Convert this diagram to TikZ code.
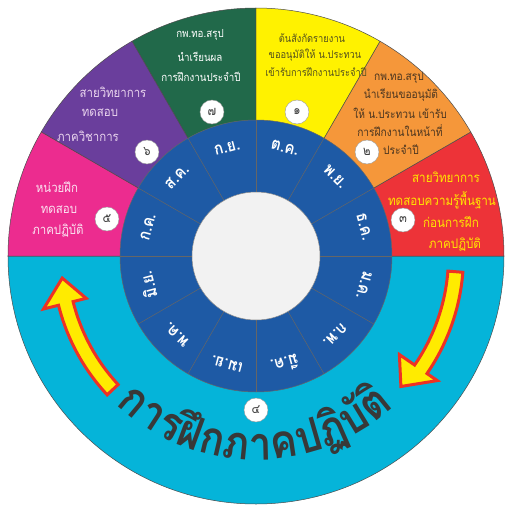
\documentclass[tikz,border=0pt]{standalone}
\usepackage{fontspec}
\newfontfamily\thai[Script=Thai, FakeStretch=0.88]{Loma}
\definecolor{cpink}{HTML}{EC2C8F}
\definecolor{cpurple}{HTML}{6A3E9C}
\definecolor{cgreen}{HTML}{21694A}
\definecolor{cyellow}{HTML}{FFF200}
\definecolor{corange}{HTML}{F5973A}
\definecolor{cred}{HTML}{ED3338}
\definecolor{ccyan}{HTML}{05B4D9}
\definecolor{cblue}{HTML}{1E5AA5}
\definecolor{cgray}{HTML}{F2F2F2}
\definecolor{ytext}{HTML}{55521E}
\definecolor{otext}{HTML}{4A3520}
\definecolor{rtext}{HTML}{FFE600}
\definecolor{ptext}{HTML}{EAD5EE}
\definecolor{pktext}{HTML}{FBE3F1}
\definecolor{bigtext}{HTML}{383838}
\definecolor{arrred}{HTML}{EE3124}
\definecolor{arryel}{HTML}{FFEB00}
\newlength\tw
\newlength\totw
\newcommand\bigfnt{\thai\bfseries\fontsize{\bigsz}{\bigsz}\selectfont}
\begin{document}%
\settowidth{\totw}{\thai\bfseries\fontsize{10}{10}\selectfont การฝึกภาคปฏิบัติ}%
\pgfmathsetmacro\bigsz{10*300/\totw}%
\xdef\bigsz{\bigsz}%
\xdef\cumw{0}%
\foreach \t [count=\i] in {ก,า,ร,ฝึ,ก,ภ,า,ค,ป,ฏิ,บั,ติ} {%
  \settowidth{\tw}{\bigfnt \t}%
  \pgfmathsetmacro\ang{-133.4 + (\cumw + 0.5*\tw)/200*180/pi}%
  \expandafter\xdef\csname bigang\i\endcsname{\ang}%
  \pgfmathsetmacro\newc{\cumw+\tw}%
  \xdef\cumw{\newc}%
}%
\begin{tikzpicture}[x=1pt,y=1pt,
  sec/.style={draw=black!70, line width=0.5pt},
  ringline/.style={draw=black!60, line width=0.5pt},
  glbl/.style={font=\thai\fontsize{11.1}{13}\selectfont, inner sep=0pt, text=white},
  ylbl/.style={font=\thai\fontsize{10.6}{12}\selectfont, inner sep=0pt, text=ytext},
  olbl/.style={font=\thai\fontsize{11.6}{13}\selectfont, inner sep=0pt, text=otext},
  rlbl/.style={font=\thai\fontsize{13.2}{15}\selectfont, inner sep=0pt, text=rtext},
  plbl/.style={font=\thai\fontsize{13}{15}\selectfont, inner sep=0pt, text=ptext},
  klbl/.style={font=\thai\fontsize{13}{15}\selectfont, inner sep=0pt, text=pktext},
  mon/.style={font=\thai\bfseries\fontsize{17}{17}\selectfont, text=white, inner sep=0pt},
  num/.style={circle, fill=white, draw=black!40, line width=0.4pt, minimum size=24pt, inner sep=0pt, font=\thai\fontsize{13}{13}\selectfont, text=black!75},
  big/.style={font=\bigfnt, text=bigtext, anchor=base, inner sep=0pt},
  arr/.style={fill=arryel, draw=arrred, line width=3pt, line join=miter}]
\fill[white] (-256,-256) rectangle (256,256);
\useasboundingbox (-256,-256) rectangle (256,256);
% outer sectors
\path[sec, fill=ccyan] (0,0) -- (0:248) arc[start angle=0, end angle=-180, radius=248] -- cycle;
\path[sec, fill=cred] (0,0) -- (0:248) arc[start angle=0, end angle=30, radius=248] -- cycle;
\path[sec, fill=corange] (0,0) -- (30:248) arc[start angle=30, end angle=60, radius=248] -- cycle;
\path[sec, fill=cyellow] (0,0) -- (60:248) arc[start angle=60, end angle=90, radius=248] -- cycle;
\path[sec, fill=cgreen] (0,0) -- (90:248) arc[start angle=90, end angle=120, radius=248] -- cycle;
\path[sec, fill=cpurple] (0,0) -- (120:248) arc[start angle=120, end angle=150, radius=248] -- cycle;
\path[sec, fill=cpink] (0,0) -- (150:248) arc[start angle=150, end angle=180, radius=248] -- cycle;
% blue ring
\path[ringline, fill=cblue] (0,0) circle (136);
\foreach \a in {0,30,...,330} \draw[ringline] (\a:64) -- (\a:136);
\path[draw=black!45, line width=0.5pt, fill=cgray] (0,0) circle (64);
% months
\foreach \a/\t [count=\i] in {75/ต.ค., 45/พ.ย., 15/ธ.ค., -15/ม.ค., -45/ก.พ., -75/มี.ค., -105/เม.ย., -135/พ.ค., -165/มิ.ย., 165/ก.ค., 135/ส.ค., 105/ก.ย.}
  \node[mon, rotate=\a-90] (m\i) at (\a:112) {\t};
% arrows
\draw[arr] (223:203.5) arc[start angle=223, end angle=194, radius=203.5] -- (194:219) -- (186.5:195) -- (194:175) -- (194:188.5) arc[start angle=194, end angle=223, radius=188.5] -- cycle;
\draw[arr] (-4.5:207.5) arc[start angle=-4.5, end angle=-34.5, radius=207.5] -- (-34.5:220) -- (-42:195) -- (-34.5:174) -- (-34.5:192.5) arc[start angle=-34.5, end angle=-4.5, radius=192.5] -- cycle;
% sector texts
\node[glbl] (g1) at (-56,221) {กพ.ทอ.สรุป};
\node[glbl] (g2) at (-56,199) {นำเรียนผล};
\node[glbl] (g3) at (-55,179) {การฝึกงานประจำปี};
\node[ylbl] (y1) at (56,218) {ต้นสังกัดรายงาน};
\node[ylbl] (y2) at (59,201) {ขออนุมัติให้ น.ประทวน};
\node[ylbl] (y3) at (60,184) {เข้ารับการฝึกงานประจำปี};
\node[olbl] (o1) at (143,178) {กพ.ทอ.สรุป};
\node[olbl] (o2) at (145,161) {นำเรียนขออนุมัติ};
\node[olbl] (o3) at (144,143) {ให้ น.ประทวน เข้ารับ};
\node[olbl] (o4) at (144,125) {การฝึกงานในหน้าที่};
\node[olbl] (o5) at (145,106) {ประจำปี};
\node[rlbl] (r1) at (190,79) {สายวิทยาการ};
\node[rlbl] (r2) at (186,56) {ทดสอบความรู้พื้นฐาน};
\node[rlbl] (r3) at (195,34) {ก่อนการฝึก};
\node[rlbl] (r4) at (199,11) {ภาคปฏิบัติ};
\node[plbl] (p1) at (-143,164) {สายวิทยาการ};
\node[plbl] (p2) at (-156,143) {ทดสอบ};
\node[plbl] (p3) at (-168,120) {ภาควิชาการ};
\node[klbl] (k1) at (-199,69) {หน่วยฝึก};
\node[klbl] (k2) at (-197,46) {ทดสอบ};
\node[klbl] (k3) at (-198,25) {ภาคปฏิบัติ};
% number circles
\node[num] (n7) at (-44,144) {๗};
\node[num] (n1) at (41,144) {๑};
\node[num] (n2) at (111,104) {๒};
\node[num] (n3) at (147,36) {๓};
\node[num] (n4) at (0,-154) {๔};
\node[num] (n5) at (-149,37) {๕};
\node[num] (n6) at (-109,104) {๖};
% big curved title
\foreach \t [count=\i] in {ก,า,ร,ฝึ,ก,ภ,า,ค,ป,ฏิ,บั,ติ} {
  \edef\ang{\csname bigang\i\endcsname}
  \node[big, rotate=\ang+90] (t\i) at (\ang:204) {\t};
}
\end{tikzpicture}%
\end{document}
